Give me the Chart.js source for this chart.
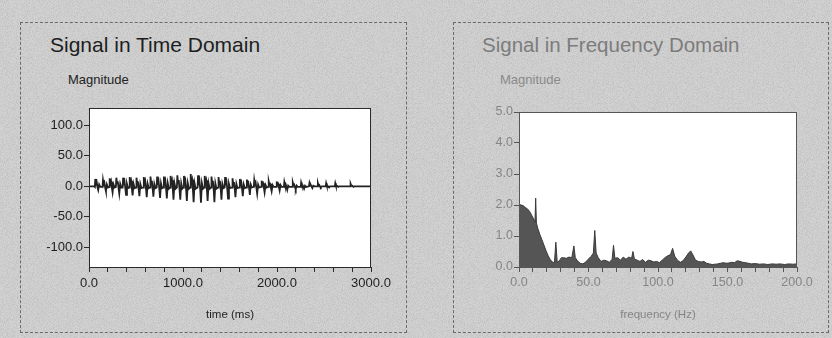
<!DOCTYPE html>
<html lang="en">

<head>
  <meta charset="utf-8">
  <title>Signal in Time / Frequency Domain</title>
  <script src="https://cdn.jsdelivr.net/npm/chart.js"></script>
  <style>
    body {
      margin: 0;
      width: 832px;
      height: 338px;
      background-color: #d2d2d2;
      background-image: url("data:image/svg+xml;utf8,<svg xmlns='http://www.w3.org/2000/svg' width='160' height='160'><filter id='n'><feTurbulence type='fractalNoise' baseFrequency='1.2' numOctaves='1' stitchTiles='stitch'/><feColorMatrix values='0 0 0 0 0.35  0 0 0 0 0.35  0 0 0 0 0.35  0 0 0 1.1 -0.45'/></filter><rect width='160' height='160' filter='url(%23n)'/></svg>");
      position: relative;
      overflow: hidden;
      font-family: "Liberation Sans", Arial, sans-serif;
    }

    .panel {
      position: absolute;
      top: 22px;
      height: 309px;
      border: 1px dashed #6a6a6a;
    }

    .lbl {
      position: absolute;
      white-space: nowrap;
    }

    canvas {
      position: absolute;
    }
  </style>
</head>

<body>
  <div class="panel" style="left: 20px; width: 385px;"></div>
  <div class="panel" style="left: 453px; width: 374px;"></div>

  <div class="lbl" style="left: 50px; top: 33px; font-size: 21px; color: #1e1e1e;">Signal in Time Domain</div>
  <div class="lbl" style="left: 68px; top: 72px; font-size: 13px; color: #222;">Magnitude</div>
  <div class="lbl" style="left: 482px; top: 33px; font-size: 20.5px; color: #7c7c7c;">Signal in Frequency Domain</div>
  <div class="lbl" style="left: 500px; top: 72px; font-size: 13px; color: #8a8a8a;">Magnitude</div>

  <canvas id="timeChart" width="385" height="237" style="left: 20px; top: 95px;"></canvas>
  <canvas id="freqChart" width="375" height="237" style="left: 453px; top: 95px;"></canvas>

  <script>
    // time domain signal (ms, magnitude)
    const timeMs = [
      0, 55,
      62, 67, 74, 82, 91, 98, 108, 120,
      144, 149, 156, 164, 173, 180, 190, 202,
      215, 220, 227, 235, 244, 251, 261, 273,
      286, 291, 298, 306, 315, 322, 332, 344,
      358, 363, 370, 378, 387, 394, 404, 416,
      428, 433, 440, 448, 457, 464, 474, 486,
      500, 505, 512, 520, 529, 536, 546, 558,
      578, 583, 590, 598, 607, 614, 624, 636,
      649, 654, 661, 669, 678, 685, 695, 707,
      720, 725, 732, 740, 749, 756, 766, 778,
      792, 797, 804, 812, 821, 828, 838, 850,
      863, 868, 875, 883, 892, 899, 909, 921,
      935, 940, 947, 955, 964, 971, 981, 993,
      1005, 1010, 1017, 1025, 1034, 1041, 1051, 1063,
      1077, 1082, 1089, 1097, 1106, 1113, 1123, 1135,
      1155, 1160, 1167, 1175, 1184, 1191, 1201, 1213,
      1226, 1231, 1238, 1246, 1255, 1262, 1272, 1284,
      1298, 1303, 1310, 1318, 1327, 1334, 1344, 1356,
      1373, 1378, 1385, 1393, 1402, 1409, 1419, 1431,
      1443, 1448, 1455, 1463, 1472, 1479, 1489, 1501,
      1522, 1527, 1534, 1542, 1551, 1558, 1568, 1580,
      1600, 1605, 1612, 1620, 1629, 1636, 1646, 1658,
      1675, 1680, 1687, 1695, 1704, 1711, 1721, 1733,
      1753, 1758, 1765, 1773, 1782, 1789, 1799, 1811,
      1832, 1837, 1844, 1852, 1861, 1868, 1878, 1890,
      1907, 1912, 1919, 1927, 1936, 1943, 1953, 1965,
      1992, 1997, 2004, 2012, 2021, 2028, 2038, 2050,
      2073, 2078, 2085, 2093, 2102, 2109, 2119, 2131,
      2163, 2168, 2175, 2183, 2192, 2199, 2209, 2221,
      2252, 2257, 2264, 2272, 2281, 2288, 2298, 2310,
      2340, 2345, 2352, 2360, 2369, 2376, 2386, 2398,
      2430, 2435, 2442, 2450, 2459, 2466, 2476, 2488,
      2518, 2523, 2530, 2538, 2547, 2554, 2564, 2576,
      2615, 2620, 2627, 2635, 2644, 2651, 2661, 2673,
      2778, 2783, 2790, 2798, 2807, 2814, 2824, 2836,
      3000
    ];
    const timeMag = [
      0, 0,
      -1, 12, 4, 7, -2, -6, 3, -1,
      -1, 10, 3, 6, -3, -8, 3, -2,
      -1, 13, 4, 8, -3, -10, 3, -2,
      -1, 14, 5, 8, -4, -12, 4, -2,
      -2, 14, 5, 8, -4, -14, 4, -3,
      -2, 15, 5, 9, -5, -15, 4, -3,
      -2, 14, 5, 8, -5, -16, 4, -3,
      -2, 15, 5, 9, -5, -18, 4, -3,
      -2, 16, 6, 9, -5, -17, 4, -3,
      -2, 16, 6, 9, -6, -19, 5, -3,
      -2, 16, 6, 10, -6, -20, 5, -4,
      -2, 17, 6, 10, -6, -22, 5, -4,
      -2, 18, 6, 10, -7, -22, 5, -4,
      -2, 17, 6, 10, -7, -24, 5, -4,
      -2, 20, 7, 11, -7, -26, 5, -4,
      -2, 18, 6, 10, -7, -27, 5, -4,
      -2, 17, 6, 10, -7, -24, 5, -4,
      -2, 16, 6, 9, -7, -26, 5, -4,
      -2, 15, 5, 9, -6, -22, 4, -3,
      -2, 15, 5, 8, -6, -20, 4, -3,
      -2, 13, 5, 7, -5, -18, 4, -3,
      -2, 12, 4, 7, -5, -16, 3, -3,
      -2, 11, 4, 6, -4, -14, 3, -2,
      -1, 10, 3, 6, -4, -12, 3, -2,
      -1, 9, 3, 5, -3, -10, 2, -2,
      -1, 8, 3, 4, -3, -8, 2, -1,
      -1, 8, 2, 4, -2, -7, 2, -1,
      -1, 7, 2, 3, -2, -6, 1, -1,
      -1, 6, 2, 3, -2, -5, 1, -1,
      -1, 6, 2, 2, -1, -4, 1, -1,
      0, 5, 1, 2, -1, -3, 1, 0,
      0, 5, 1, 2, -1, -2, 0, 0,
      0, 5, 1, 1, -1, -2, 0, 0,
      0, 5, 1, 1, 0, -1, 0, 0,
      0, 4, 1, 1, 0, -1, 0, 0,
      0
    ];

    // frequency domain magnitude (Hz, magnitude)
    const freqHz = [
      0, 1.5, 3, 4.5, 6, 7.5, 9, 10.5, 11.5, 12, 12.5, 13.5, 15, 16.5, 18, 19.5,
      21, 22.5, 24, 25.5, 26.5, 27.5, 29, 30.5, 32, 34, 36, 38, 39.5, 40.5, 42, 44,
      46, 48, 50, 52, 53.5, 54.5, 55.5, 57, 59, 61, 63, 65, 67, 68, 69, 71,
      73, 75, 77, 79, 81, 82, 83, 85, 87, 89, 91, 93, 95, 97, 99, 101,
      103, 105, 107, 109, 110.5, 112, 114, 116, 118, 120, 122, 123.5, 125, 127, 129, 131,
      133, 135, 137, 139, 141, 143, 145, 147, 149, 151, 153, 155, 157, 159, 161, 163,
      165, 167, 170, 173, 176, 179, 182, 185, 188, 191, 194, 197, 200
    ];
    const freqMag = [
      2.02, 2.0, 1.98, 1.92, 1.88, 1.8, 1.68, 1.55, 1.45, 2.22, 1.42, 1.25, 1.05, 0.88, 0.7, 0.52,
      0.36, 0.24, 0.16, 0.14, 0.8, 0.15, 0.2, 0.3, 0.3, 0.28, 0.32, 0.3, 0.68, 0.3, 0.2, 0.12,
      0.1, 0.16, 0.26, 0.35, 0.45, 1.18, 0.45, 0.3, 0.18, 0.22, 0.2, 0.15, 0.25, 0.7, 0.28, 0.3,
      0.22, 0.32, 0.25, 0.32, 0.28, 0.5, 0.26, 0.22, 0.18, 0.24, 0.15, 0.22, 0.2, 0.16, 0.18, 0.14,
      0.22, 0.3, 0.36, 0.4, 0.6, 0.35, 0.22, 0.15, 0.2, 0.32, 0.45, 0.52, 0.4, 0.22, 0.18, 0.16,
      0.18, 0.12, 0.1, 0.08, 0.09, 0.1, 0.12, 0.14, 0.12, 0.13, 0.15, 0.14, 0.2, 0.18, 0.15, 0.14,
      0.12, 0.1, 0.11, 0.09, 0.1, 0.08, 0.1, 0.09, 0.1, 0.08, 0.1, 0.09, 0.1
    ];

    const timeTicksLabelled = [0, 1000, 2000, 3000];
    const freqTicksLabelled = [0, 50, 100, 150, 200];

    const fontFamily = "'Liberation Sans', Arial, sans-serif";

    // white plot area + thin frame round it
    const plotFrame = {
      id: 'plotFrame',
      beforeDraw(chart, args, opts) {
        const { ctx, chartArea: a } = chart;
        ctx.save();
        ctx.fillStyle = '#ffffff';
        ctx.fillRect(a.left, a.top, a.right - a.left, a.bottom - a.top);
        ctx.restore();
      },
      afterDraw(chart, args, opts) {
        const { ctx, chartArea: a } = chart;
        ctx.save();
        ctx.strokeStyle = opts.color || '#333';
        ctx.lineWidth = 1;
        ctx.strokeRect(a.left + 0.5, a.top + 0.5, a.right - a.left - 1, a.bottom - a.top);
        ctx.restore();
      }
    };

    function axes(cfg) {
      return {
        x: {
          type: 'linear',
          min: cfg.xMin,
          max: cfg.xMax,
          afterFit: (s) => { s.height = 65; },
          grid: { display: true, drawOnChartArea: false, drawTicks: true, tickLength: 5, color: cfg.axisColor },
          border: { display: true, color: cfg.axisColor },
          ticks: {
            stepSize: cfg.xStep,
            autoSkip: false,
            maxRotation: 0,
            padding: cfg.xPad,
            color: cfg.textColor,
            font: { family: fontFamily, size: cfg.tickSize },
            callback: (v) => cfg.xLabelled.includes(v) ? v.toFixed(1) : ''
          },
          title: {
            display: true,
            text: cfg.xTitle,
            color: cfg.textColor,
            font: { family: fontFamily, size: 11.5 },
            padding: { top: 0, bottom: 10 }
          }
        },
        y: {
          min: cfg.yMin,
          max: cfg.yMax,
          afterFit: (s) => { s.width = cfg.yWidth; },
          grid: { display: true, drawOnChartArea: false, drawTicks: true, tickLength: 5, color: cfg.axisColor },
          border: { display: true, color: cfg.axisColor },
          ticks: {
            stepSize: cfg.yStep,
            includeBounds: false,
            padding: 1,
            color: cfg.textColor,
            font: { family: fontFamily, size: cfg.tickSize },
            callback: (v) => v.toFixed(1)
          }
        }
      };
    }

    new Chart(document.getElementById('timeChart'), {
      type: 'line',
      data: {
        datasets: [{
          label: 'Magnitude',
          data: timeMs.map((t, i) => ({ x: t, y: timeMag[i] })),
          borderColor: '#222222',
          borderWidth: 1.8,
          pointRadius: 0,
          tension: 0,
          fill: false
        }]
      },
      options: {
        responsive: false,
        animation: false,
        layout: { padding: { left: 0, top: 13, right: 34, bottom: 0 } },
        plugins: { legend: { display: false }, tooltip: { enabled: false }, plotFrame: { color: '#2a2a2a' } },
        scales: axes({
          xMin: 0, xMax: 3000, xStep: 200, xLabelled: timeTicksLabelled, xTitle: 'time (ms)', xPad: 4,
          yMin: -132, yMax: 128, yStep: 50, yWidth: 69, tickSize: 13,
          textColor: '#1e1e1e', axisColor: '#2a2a2a'
        })
      },
      plugins: [plotFrame]
    });

    new Chart(document.getElementById('freqChart'), {
      type: 'line',
      data: {
        datasets: [{
          label: 'Magnitude',
          data: freqHz.map((f, i) => ({ x: f, y: freqMag[i] })),
          borderColor: '#3a3a3a',
          backgroundColor: '#555555',
          borderWidth: 1,
          pointRadius: 0,
          tension: 0,
          fill: 'origin'
        }]
      },
      options: {
        responsive: false,
        animation: false,
        layout: { padding: { left: 0, top: 17, right: 31, bottom: 0 } },
        plugins: { legend: { display: false }, tooltip: { enabled: false }, plotFrame: { color: '#555' } },
        scales: axes({
          xMin: 0, xMax: 200, xStep: 10, xLabelled: freqTicksLabelled, xTitle: 'frequency (Hz)', xPad: 3,
          yMin: 0, yMax: 5, yStep: 1, yWidth: 66, tickSize: 12.5,
          textColor: '#858585', axisColor: '#555'
        })
      },
      plugins: [plotFrame]
    });
  </script>
</body>

</html>
